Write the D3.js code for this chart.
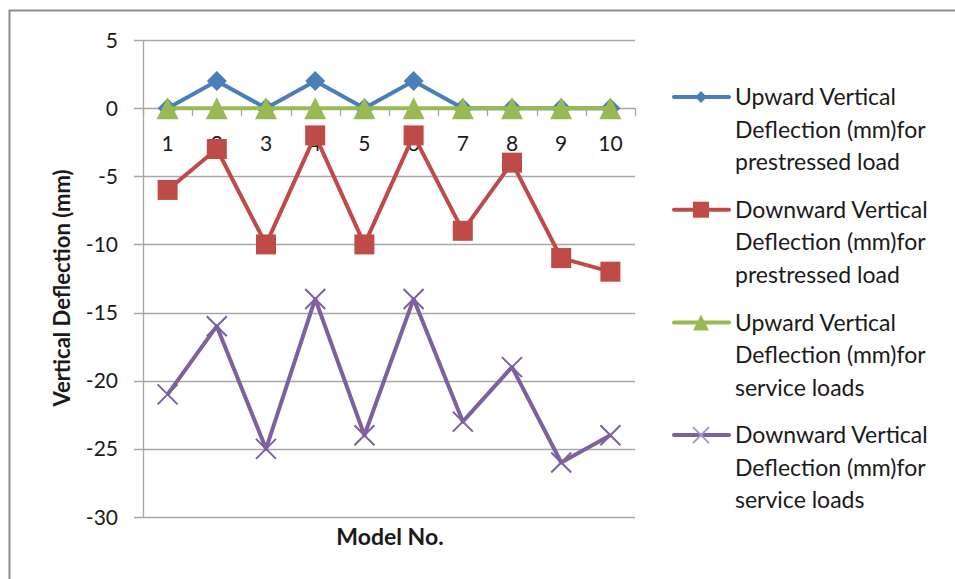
<!DOCTYPE html>
<html>
<head>
<meta charset="utf-8">
<script src="https://cdn.jsdelivr.net/npm/d3@7"></script>
<style>
  body { margin: 0; background: #fff; }
  text { font-family: Lato, "Open Sans", sans-serif; fill: #1a1a1a; }
</style>
</head>
<body>
<div id="graph"></div>
<script>
var models = [1, 2, 3, 4, 5, 6, 7, 8, 9, 10];
var upPrestressed = [0, 2, 0, 2, 0, 2, 0, 0, 0, 0];
var downPrestressed = [-6, -3, -10, -2, -10, -2, -9, -4, -11, -12];
var upService = [0, 0, 0, 0, 0, 0, 0, 0, 0, 0];
var downService = [-21, -16, -25, -14, -24, -14, -23, -19, -26, -24];
var yTicks = [5, 0, -5, -10, -15, -20, -25, -30];

var seriesNames = [
  ["Upward Vertical", "Deflection (mm)for", "prestressed load"],
  ["Downward Vertical", "Deflection (mm)for", "prestressed load"],
  ["Upward Vertical", "Deflection (mm)for", "service loads"],
  ["Downward Vertical", "Deflection (mm)for", "service loads"]
];
var seriesColors = ["#4a7ebb", "#be4b48", "#98b954", "#7d60a0"];
var seriesMarkers = ["diamond", "square", "triangle", "x"];
var series = [upPrestressed, downPrestressed, upService, downService];

var W = 955, H = 579;
var plot = {left: 143, right: 635, top: 40, bottom: 517};

var svg = d3.select("#graph").append("svg")
    .attr("width", W).attr("height", H);

// outer frame
svg.append("rect")
    .attr("x", 9.5).attr("y", 10.5)
    .attr("width", 1000).attr("height", 1000)
    .attr("fill", "none").attr("stroke", "#8c8c8c").attr("stroke-width", 2);

var x = d3.scaleBand().domain(models).range([plot.left, plot.right]);
var y = d3.scaleLinear().domain([-30, 5]).range([plot.bottom, plot.top]);

// gridlines
svg.append("g").selectAll("line")
    .data(yTicks)
    .enter().append("line")
    .attr("x1", plot.left - 9).attr("x2", plot.right)
    .attr("y1", function(d) { return Math.round(y(d)) + 0.5; })
    .attr("y2", function(d) { return Math.round(y(d)) + 0.5; })
    .attr("stroke", "#a6a6a6").attr("stroke-width", 1.3);

// y axis line
svg.append("line")
    .attr("x1", plot.left + 0.5).attr("x2", plot.left + 0.5)
    .attr("y1", plot.top).attr("y2", plot.bottom)
    .attr("stroke", "#a6a6a6").attr("stroke-width", 1.3);

// y tick labels
svg.append("g").selectAll("text")
    .data(yTicks)
    .enter().append("text")
    .attr("x", 118).attr("y", function(d) { return y(d); })
    .attr("dy", "0.36em")
    .attr("text-anchor", "end")
    .style("font-size", "21px")
    .text(function(d) { return d; });

// x axis ticks at y = 0
var bounds = d3.range(models.length + 1).map(function(i) { return plot.left + i * x.bandwidth(); });
svg.append("g").selectAll("line")
    .data(bounds)
    .enter().append("line")
    .attr("x1", function(d) { return Math.round(d) + 0.5; })
    .attr("x2", function(d) { return Math.round(d) + 0.5; })
    .attr("y1", y(0)).attr("y2", y(0) + 8)
    .attr("stroke", "#a6a6a6").attr("stroke-width", 1.3);

svg.append("g").selectAll("text")
    .data(models)
    .enter().append("text")
    .attr("x", function(d) { return x(d) + x.bandwidth() / 2; })
    .attr("y", y(0) + 35)
    .attr("dy", "0.36em")
    .attr("text-anchor", "middle")
    .style("font-size", "21px")
    .text(function(d) { return d; });

// axis titles
svg.append("text")
    .attr("transform", "translate(70,288) rotate(-90)")
    .attr("text-anchor", "middle")
    .style("font-size", "22px").style("font-weight", "bold")
    .text("Vertical Deflection (mm)");

svg.append("text")
    .attr("x", 390).attr("y", 537)
    .attr("dy", "0.36em")
    .attr("text-anchor", "middle")
    .style("font-size", "23px").style("font-weight", "bold")
    .text("Model No.");

function drawMarker(g, type, color, cx, cy, r) {
  if (type == "diamond") {
    g.append("path").attr("d", "M" + cx + "," + (cy - r) + "L" + (cx + r) + "," + cy + "L" + cx + "," + (cy + r) + "L" + (cx - r) + "," + cy + "Z")
      .attr("fill", color);
  } else if (type == "square") {
    g.append("rect").attr("x", cx - r).attr("y", cy - r).attr("width", 2 * r).attr("height", 2 * r)
      .attr("fill", color);
  } else if (type == "triangle") {
    g.append("path").attr("d", "M" + cx + "," + (cy - r) + "L" + (cx + r) + "," + (cy + r) + "L" + (cx - r) + "," + (cy + r) + "Z")
      .attr("fill", color);
  } else {
    g.append("path").attr("d", "M" + (cx - r) + "," + (cy - r) + "L" + (cx + r) + "," + (cy + r) + "M" + (cx + r) + "," + (cy - r) + "L" + (cx - r) + "," + (cy + r))
      .attr("stroke", color).attr("stroke-width", 2).attr("fill", "none");
  }
}

var markerSize = {diamond: 10, square: 10, triangle: 11, x: 10};

var line = d3.line()
    .x(function(d, i) { return x(models[i]) + x.bandwidth() / 2; })
    .y(function(d) { return y(d); });

series.forEach(function(vals, s) {
  var g = svg.append("g").attr("class", "series");
  g.append("path").datum(vals)
    .attr("d", line)
    .attr("fill", "none")
    .attr("stroke", seriesColors[s])
    .attr("stroke-width", 4)
    .attr("stroke-linejoin", "round");
  vals.forEach(function(v, i) {
    var m = seriesMarkers[s];
    drawMarker(g, m, seriesColors[s], x(models[i]) + x.bandwidth() / 2, y(v), markerSize[m]);
  });
});

// legend
var legend = svg.append("g").attr("class", "legend");
seriesNames.forEach(function(lines, s) {
  var ly = 97 + s * 112.7;
  var g = legend.append("g");
  g.append("line")
    .attr("x1", 674).attr("x2", 729).attr("y1", ly).attr("y2", ly)
    .attr("stroke", seriesColors[s]).attr("stroke-width", 4).attr("stroke-linecap", "round");
  var m = seriesMarkers[s];
  drawMarker(g, m, m == "x" ? "#a996c4" : seriesColors[s], 701, ly, m == "diamond" ? 6 : 8);
  lines.forEach(function(t, k) {
    g.append("text")
      .attr("x", 735).attr("y", ly + k * 32.5)
      .attr("dy", "0.36em")
      .style("font-size", "23px")
      .text(t);
  });
});
</script>
</body>
</html>
